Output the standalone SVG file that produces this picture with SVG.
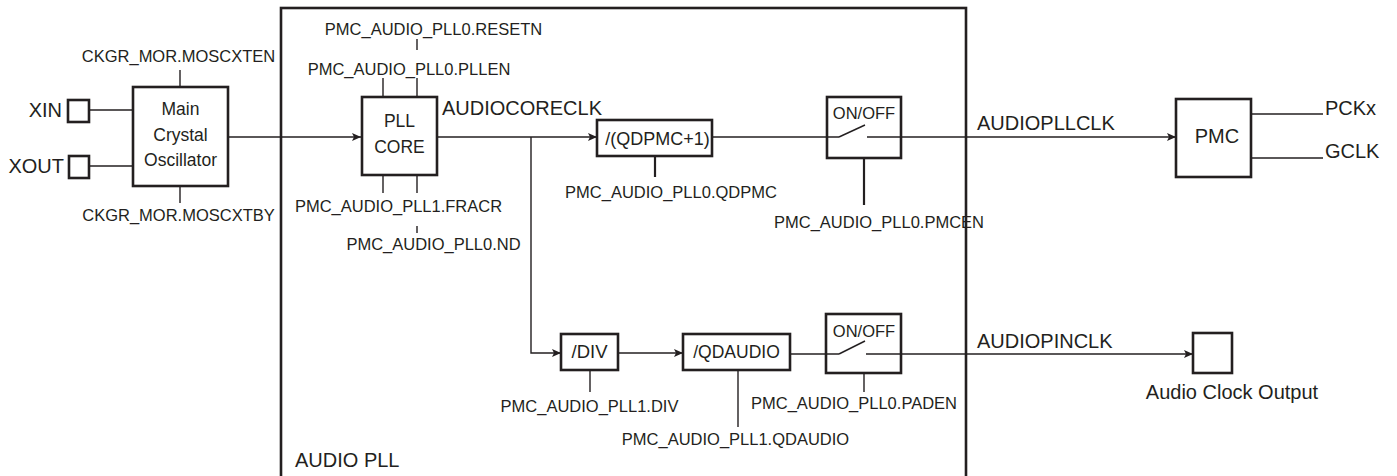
<svg xmlns="http://www.w3.org/2000/svg" width="1397" height="476" viewBox="0 0 1397 476">
<style>
.box{fill:#fff;stroke:#231f20;stroke-width:2.6}
.frame{fill:none;stroke:#231f20;stroke-width:2.6}
.ln{fill:none;stroke:#231f20;stroke-width:1.4}
.tk{fill:none;stroke:#231f20;stroke-width:2.2}
text{font-family:"Liberation Sans",Arial,sans-serif;fill:#231f20}
.s{font-size:16.5px}
.m{font-size:17.5px}
.l{font-size:20px}
.c{text-anchor:middle}
</style>
<defs>
<marker id="ah" markerUnits="userSpaceOnUse" markerWidth="10" markerHeight="10" refX="9" refY="5" orient="auto">
<path d="M0,1 L9,5 L0,9 L2,5 Z" fill="#231f20"/>
</marker>
</defs>
<rect width="1397" height="476" fill="#fff"/>

<g id="audio-pll">
<rect class="frame" x="281" y="8" width="685" height="472"/>
<text class="l" x="295" y="467">AUDIO PLL</text>
</g>

<g id="connectors">
<line class="ln" x1="89" y1="110" x2="133" y2="110"/>
<line class="ln" x1="89" y1="166" x2="133" y2="166"/>
<line class="ln" x1="228" y1="137" x2="361" y2="137" marker-end="url(#ah)"/>
<line class="ln" x1="437" y1="137" x2="597" y2="137" marker-end="url(#ah)"/>
<line class="ln" x1="712" y1="137" x2="839" y2="137"/>
<line class="ln" x1="839" y1="137" x2="865" y2="125"/>
<line class="ln" x1="867" y1="137" x2="1176" y2="137" marker-end="url(#ah)"/>
<polyline class="ln" points="531,137 531,353 561,353" marker-end="url(#ah)"/>
<line class="ln" x1="618" y1="353" x2="683" y2="353" marker-end="url(#ah)"/>
<line class="ln" x1="790" y1="354" x2="839" y2="354"/>
<line class="ln" x1="839" y1="354" x2="865" y2="341"/>
<line class="ln" x1="866" y1="354" x2="1193" y2="354" marker-end="url(#ah)"/>
<line class="ln" x1="1251" y1="114" x2="1323" y2="114"/>
<line class="ln" x1="1251" y1="158" x2="1323" y2="158"/>
<line class="ln" x1="180" y1="70" x2="180" y2="87"/>
<line class="ln" x1="180" y1="186" x2="180" y2="203"/>
<line class="ln" x1="417" y1="39" x2="417" y2="50"/>
<line class="ln" x1="417" y1="78" x2="417" y2="97"/>
<line class="ln" x1="383" y1="78" x2="383" y2="97"/>
<line class="ln" x1="383" y1="175" x2="383" y2="193"/>
<line class="ln" x1="417" y1="175" x2="417" y2="193"/>
<line class="ln" x1="417" y1="226" x2="417" y2="233"/>
<line class="tk" x1="655" y1="156" x2="655" y2="177"/>
<line class="tk" x1="864" y1="158" x2="864" y2="205"/>
<line class="ln" x1="590" y1="370" x2="590" y2="392"/>
<line class="ln" x1="738" y1="370" x2="738" y2="427"/>
<line class="ln" x1="864" y1="373" x2="864" y2="392"/>
</g>

<g id="xin">
<rect class="box" x="68" y="100" width="21" height="22"/>
<text class="l" x="62" y="117" text-anchor="end">XIN</text>
</g>
<g id="xout">
<rect class="box" x="69" y="156" width="20" height="22"/>
<text class="l" x="64" y="173" text-anchor="end">XOUT</text>
</g>

<g id="main-osc">
<rect class="box" x="133" y="87" width="95" height="99" fill="none" style="fill:none"/>
<text class="m c" x="180.5" y="115">Main</text>
<text class="m c" x="180.5" y="141">Crystal</text>
<text class="m c" x="180.5" y="166">Oscillator</text>
<text class="s c" x="178.5" y="62">CKGR_MOR.MOSCXTEN</text>
<text class="s c" x="178.5" y="221">CKGR_MOR.MOSCXTBY</text>
</g>

<g id="pll-core">
<rect class="box" x="362" y="97" width="75" height="78" style="fill:none"/>
<text class="m c" x="399.5" y="127">PLL</text>
<text class="m c" x="399.5" y="153">CORE</text>
<text class="s c" x="433.5" y="35">PMC_AUDIO_PLL0.RESETN</text>
<text class="s c" x="409" y="75">PMC_AUDIO_PLL0.PLLEN</text>
<text class="s c" x="398.5" y="212">PMC_AUDIO_PLL1.FRACR</text>
<text class="s c" x="433.5" y="250">PMC_AUDIO_PLL0.ND</text>
<text class="l" x="442" y="115">AUDIOCORECLK</text>
</g>

<g id="qdpmc">
<rect class="box" x="597" y="120" width="115" height="36" style="fill:none"/>
<text class="c" x="657.5" y="145" style="font-size:18px">/(QDPMC+1)</text>
<text class="s c" x="671" y="198">PMC_AUDIO_PLL0.QDPMC</text>
</g>

<g id="switch-pmc">
<rect class="box" x="827" y="97" width="74" height="61" style="fill:none"/>
<text class="s c" x="864" y="119">ON/OFF</text>
<text class="s c" x="879" y="228">PMC_AUDIO_PLL0.PMCEN</text>
<text class="l" x="977" y="130">AUDIOPLLCLK</text>
</g>

<g id="pmc">
<rect class="box" x="1176" y="99" width="75" height="78"/>
<text class="l c" x="1217" y="143">PMC</text>
<text class="l" x="1325" y="115">PCKx</text>
<text class="l" x="1325" y="158">GCLK</text>
</g>

<g id="div">
<rect class="box" x="561" y="334" width="57" height="36"/>
<text class="c" x="589.5" y="358" style="font-size:18.5px">/DIV</text>
<text class="s c" x="589.5" y="412">PMC_AUDIO_PLL1.DIV</text>
</g>

<g id="qdaudio">
<rect class="box" x="683" y="334" width="107" height="36"/>
<text class="m c" x="736.5" y="358">/QDAUDIO</text>
<text class="s c" x="735.5" y="445">PMC_AUDIO_PLL1.QDAUDIO</text>
</g>

<g id="switch-pad">
<rect class="box" x="826" y="314" width="75" height="59" style="fill:none"/>
<text class="s c" x="864" y="337">ON/OFF</text>
<text class="s c" x="854" y="409">PMC_AUDIO_PLL0.PADEN</text>
<text class="l" x="977" y="348">AUDIOPINCLK</text>
</g>

<g id="audio-clock-output">
<rect class="box" x="1193" y="333" width="39" height="40"/>
<text class="l c" x="1232" y="399">Audio Clock Output</text>
</g>
</svg>
